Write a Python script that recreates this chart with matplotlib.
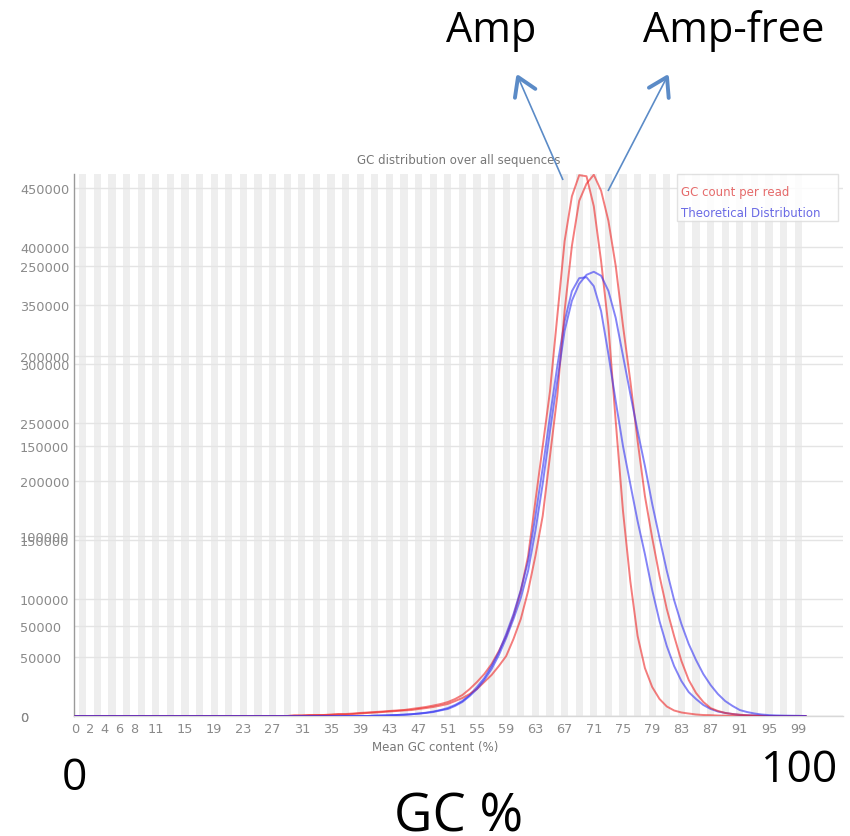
import matplotlib
matplotlib.use("Agg")
import matplotlib.pyplot as plt
import numpy as np

# Mean GC content bins (%)
gc_percent = list(range(101))

# "Amp" library: observed GC count per read and fitted theoretical curve
amp_counts = [
    0, 0, 0, 0, 0, 0, 0, 0, 0, 0,
    0, 0, 0, 0, 0, 0, 0, 0, 0, 0,
    0, 0, 0, 0, 0, 0, 0, 0, 0, 0,
    400, 400, 850, 850, 850, 1300, 1700, 1700, 2100, 2600,
    3000, 3400, 3800, 4300, 4700, 5100, 6000, 6800, 7700, 8900,
    10200, 11900, 14500, 17900, 23000, 29000, 35800, 44300, 55400, 68200,
    85200, 106500, 136300, 183200, 230000, 276900, 340800, 404700, 443000, 461000,
    460100, 434500, 387700, 332300, 251300, 174700, 115000, 68200, 40900, 24700,
    14500, 8100, 4700, 3000, 2100, 1300, 850, 700, 400, 250,
    150, 100, 0, 0, 0, 0, 0, 0, 0, 0,
    0,
]
amp_theory = [
    0, 0, 0, 0, 0, 0, 0, 0, 0, 0,
    0, 0, 0, 0, 0, 0, 0, 0, 0, 0,
    0, 0, 0, 0, 0, 0, 0, 0, 0, 0,
    0, 0, 0, 0, 0, 0, 0, 0, 0, 0,
    0, 260, 430, 600, 850, 1100, 1500, 2100, 2800, 3800,
    5100, 6800, 9400, 12800, 17900, 24700, 32400, 42600, 54500, 69900,
    86900, 107400, 132100, 170400, 211300, 255600, 298200, 336500, 362100, 373200,
    374000, 366400, 345100, 308400, 268400, 230000, 197700, 166100, 138000, 107400,
    80900, 59600, 42600, 29800, 20400, 14500, 9400, 6000, 3800, 2600,
    1700, 1000, 700, 430, 260, 0, 0, 0, 0, 0,
    0,
]

# "Amp-free" library: observed GC count per read and fitted theoretical curve
ampfree_counts = [
    0, 0, 0, 0, 0, 0, 0, 0, 0, 0,
    0, 0, 0, 0, 0, 0, 0, 0, 0, 0,
    0, 0, 0, 0, 0, 0, 0, 0, 0, 0,
    280, 280, 390, 440, 560, 560, 830, 830, 1100, 1400,
    1700, 1900, 2200, 2500, 2800, 3100, 3300, 3900, 4400, 5000,
    5800, 6700, 8300, 10000, 12200, 15000, 18900, 22800, 27800, 33300,
    42800, 53900, 69400, 88900, 111100, 144400, 177800, 225000, 261100, 286100,
    295600, 300600, 291700, 275000, 250000, 216700, 186100, 152800, 122200, 98900,
    77800, 59400, 44400, 30600, 20000, 12800, 7800, 4400, 2800, 1700,
    1100, 670, 440, 280, 170, 0, 0, 0, 0, 0,
    0,
]
ampfree_theory = [
    0, 0, 0, 0, 0, 0, 0, 0, 0, 0,
    0, 0, 0, 0, 0, 0, 0, 0, 0, 0,
    0, 0, 0, 0, 0, 0, 0, 0, 0, 0,
    0, 0, 0, 0, 0, 0, 0, 0, 0, 0,
    0, 170, 280, 390, 560, 720, 1000, 1300, 1700, 2200,
    3100, 3900, 5600, 7800, 11100, 15000, 20000, 26100, 33900, 43300,
    53900, 65600, 80600, 102800, 128900, 158300, 186100, 213900, 230600, 240000,
    245000, 246700, 244500, 236100, 221100, 200000, 178900, 158300, 138900, 117800,
    98900, 80600, 64400, 51100, 40000, 31100, 23300, 17200, 12200, 8300,
    5600, 3300, 2200, 1400, 830, 500, 330, 220, 170, 110,
    0,
]

amp_yticks = [0, 50000, 100000, 150000, 200000, 250000, 300000, 350000, 400000, 450000]
ampfree_yticks = [0, 50000, 100000, 150000, 200000, 250000]
x_tick_labels = [0, 2, 4, 6, 8, 11, 15, 19, 23, 27, 31, 35, 39, 43, 47, 51, 55,
                 59, 63, 67, 71, 75, 79, 83, 87, 91, 95, 99]

legend_labels = ["GC count per read", "Theoretical Distribution"]

W, H = 850, 837
fig = plt.figure(figsize=(W / 100, H / 100), dpi=100)

# plot area in pixels
left_px, right_px, top_px, bottom_px = 74, 843, 175, 717
rect = [left_px / W, 1 - bottom_px / H, (right_px - left_px) / W, (bottom_px - top_px) / H]

px_per_pct = 7.3
xmin = -1.5 / px_per_pct
xmax = xmin + (right_px - left_px) / px_per_pct
amp_top = 462000
ampfree_top = 301000

RED = (0.93, 0.15, 0.15, 0.6)
BLUE = (0.2, 0.2, 0.95, 0.6)
GRID = "#e4e4e4"
TICK_COLOR = "#8a8a8a"
TICK_SIZE = 9.3

ax = fig.add_axes(rect)
ax.set_xlim(xmin, xmax)
ax.set_ylim(0, amp_top)

# alternating vertical bands, one per odd percent bin
for k in range(1, 100, 2):
    ax.axvspan(k - 0.5, k + 0.5, color="#eeeeee", lw=0, zorder=0)

# horizontal gridlines for both y scales
for v in amp_yticks:
    ax.axhline(v, color=GRID, lw=1.0, zorder=0.5)
for v in ampfree_yticks:
    ax.axhline(v * amp_top / ampfree_top, color=GRID, lw=1.0, zorder=0.5)

ax.plot(gc_percent, amp_counts, color=RED, lw=1.4, zorder=3)
ax.plot(gc_percent, amp_theory, color=BLUE, lw=1.4, zorder=3)

for s in ["top", "right"]:
    ax.spines[s].set_visible(False)
ax.spines["left"].set_color("#9a9a9a")
ax.spines["left"].set_linewidth(1.0)
ax.spines["bottom"].set_color("#d8d8d8")
ax.spines["bottom"].set_linewidth(1.0)

ax.set_xticks(x_tick_labels)
ax.set_xticklabels([str(v) for v in x_tick_labels])
ax.tick_params(axis="x", length=0, pad=4, labelsize=TICK_SIZE, labelcolor=TICK_COLOR)

label_pad = (left_px - 20) * 72 / 100
ax.set_yticks(amp_yticks)
ax.set_yticklabels([str(v) for v in amp_yticks], ha="left")
ax.tick_params(axis="y", length=0, pad=label_pad, labelsize=TICK_SIZE, labelcolor=TICK_COLOR)

ax.set_title("GC distribution over all sequences", fontsize=8.5, color="#777777", pad=8)
ax.set_xlabel("Mean GC content (%)", fontsize=8.5, color="#777777")
ax.xaxis.set_label_coords((435 - left_px) / (right_px - left_px), -(741 - bottom_px) / (bottom_px - top_px))

# second library on its own y scale, sharing the x axis
axb = fig.add_axes(rect, sharex=ax)
axb.patch.set_visible(False)
for s in axb.spines.values():
    s.set_visible(False)
axb.set_ylim(0, ampfree_top)
axb.plot(gc_percent, ampfree_counts, color=RED, lw=1.4, zorder=3)
axb.plot(gc_percent, ampfree_theory, color=BLUE, lw=1.4, zorder=3)
axb.set_yticks(ampfree_yticks)
axb.set_yticklabels([str(v) for v in ampfree_yticks], ha="left")
axb.tick_params(axis="y", length=0, pad=label_pad, labelsize=TICK_SIZE, labelcolor=TICK_COLOR)
axb.tick_params(axis="x", bottom=False, labelbottom=False)

# overlay in pixel coordinates for legend and annotations
ov = fig.add_axes([0, 0, 1, 1])
ov.set_xlim(0, W)
ov.set_ylim(H, 0)
ov.axis("off")
ov.patch.set_visible(False)

ov.add_patch(plt.Rectangle((677, 175), 161, 47, facecolor="white", alpha=0.85,
                           edgecolor="#dddddd", lw=1.0))
ov.text(681, 192, legend_labels[0], color="#e56a6a", fontsize=8.5, va="center", ha="left")
ov.text(681, 213, legend_labels[1], color="#6a6ae5", fontsize=8.5, va="center", ha="left")

ARROW = "#5b8bc7"


def draw_arrow(tail, tip, wing_len=21, wing_deg=32):
    tail = np.array(tail, float)
    tip = np.array(tip, float)
    ov.plot([tail[0], tip[0]], [tail[1], tip[1]], color=ARROW, lw=1.2,
            solid_capstyle="butt")
    d = (tail - tip) / np.hypot(*(tail - tip))
    pts = []
    for sgn in (1, -1):
        a = np.deg2rad(sgn * wing_deg)
        r = np.array([[np.cos(a), -np.sin(a)], [np.sin(a), np.cos(a)]])
        pts.append(tip + wing_len * (r @ d))
    ov.plot([pts[0][0], tip[0], pts[1][0]], [pts[0][1], tip[1], pts[1][1]],
            color=ARROW, lw=2.8, solid_joinstyle="round", solid_capstyle="round")


draw_arrow((563, 181), (518, 78))
draw_arrow((608, 192), (667, 78))

big = dict(family="Open Sans", color="black")
ov.text(491, 42, "Amp", fontsize=30, ha="center", va="baseline", **big)
ov.text(734, 42, "Amp-free", fontsize=30, ha="center", va="baseline", **big)
ov.text(74, 790, "0", fontsize=32, ha="center", va="baseline", **big)
ov.text(799, 782, "100", fontsize=32, ha="center", va="baseline", **big)
ov.text(459, 832, "GC %", fontsize=38, ha="center", va="baseline", **big)

fig.savefig("out.png", dpi=100)
